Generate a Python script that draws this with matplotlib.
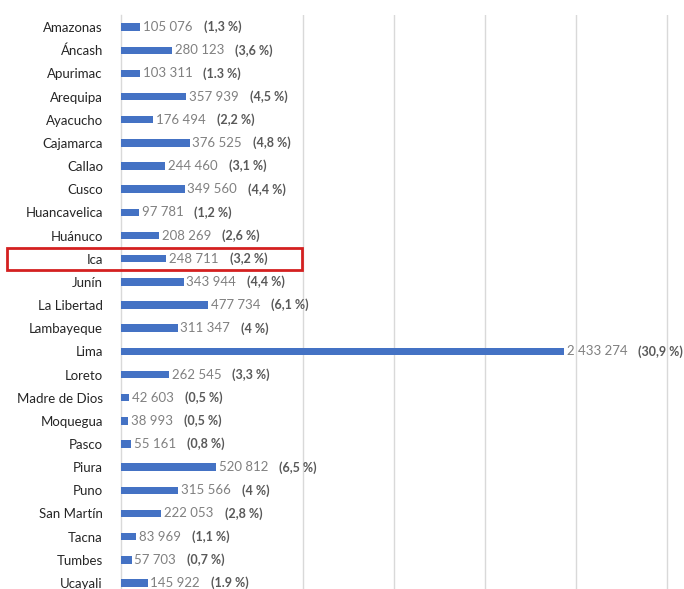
import matplotlib

matplotlib.use("Agg")
import matplotlib.pyplot as plt
from matplotlib.patches import Rectangle
from matplotlib.transforms import blended_transform_factory

# Population by region
regions = [
    "Amazonas", "Áncash", "Apurimac", "Arequipa", "Ayacucho", "Cajamarca",
    "Callao", "Cusco", "Huancavelica", "Huánuco", "Ica", "Junín",
    "La Libertad", "Lambayeque", "Lima", "Loreto", "Madre de Dios",
    "Moquegua", "Pasco", "Piura", "Puno", "San Martín", "Tacna", "Tumbes",
    "Ucayali",
]
population = [
    105076, 280123, 103311, 357939, 176494, 376525,
    244460, 349560, 97781, 208269, 248711, 343944,
    477734, 311347, 2433274, 262545, 42603,
    38993, 55161, 520812, 315566, 222053, 83969, 57703,
    145922,
]
share_labels = [
    "(1,3 %)", "(3,6 %)", "(1.3 %)", "(4,5 %)", "(2,2 %)", "(4,8 %)",
    "(3,1 %)", "(4,4 %)", "(1,2 %)", "(2,6 %)", "(3,2 %)", "(4,4 %)",
    "(6,1 %)", "(4 %)", "(30,9 %)", "(3,3 %)", "(0,5 %)",
    "(0,5 %)", "(0,8 %)", "(6,5 %)", "(4 %)", "(2,8 %)", "(1,1 %)", "(0,7 %)",
    "(1.9 %)",
]
highlight = "Ica"
grid_ticks = [1_000_000, 1_500_000, 2_000_000, 2_500_000, 3_000_000]

plt.rcParams["font.family"] = ["Lato", "DejaVu Sans"]

W, H = 684, 589
fig = plt.figure(figsize=(W / 100, H / 100), dpi=100)
ax = fig.add_axes([121 / W, 0, 1 - 121 / W, 1 - 15 / H])

pos = list(range(len(regions)))
ax.barh(pos, population, height=0.32, color="#4472C4", zorder=3)

ax.set_ylim(24.26, -0.52)
ax.set_xlim(0, 563 / 182 * 1e6)
ax.set_yticks(pos)
ax.set_yticklabels(regions, fontsize=9.5, color="#262626")
ax.tick_params(axis="y", length=0, pad=13)
ax.set_xticks(grid_ticks)
ax.tick_params(axis="x", length=0, labelbottom=False)
ax.grid(axis="x", color="#d9d9d9", linewidth=1, zorder=0)

for side in ["top", "right", "bottom"]:
    ax.spines[side].set_visible(False)
ax.spines["left"].set_color("#d9d9d9")
ax.spines["left"].set_linewidth(1)

for y, v, s in zip(pos, population, share_labels):
    num = f"{v:,}".replace(",", " ")
    t = ax.annotate(num, xy=(v, y), xytext=(2, 0), textcoords="offset points",
                    va="center", ha="left", fontsize=9.5, color="#808080")
    ax.annotate(s, xy=(1, 0.5), xycoords=t, xytext=(8, 0), textcoords="offset points",
                va="center", ha="left", fontsize=9, fontweight="bold", color="#595959")

# red box around the highlighted row
idx = regions.index(highlight)
trans = blended_transform_factory(fig.transFigure, ax.transData)
box = Rectangle((7 / W, idx - 0.48), 295 / W, 0.96, transform=trans,
                fill=False, edgecolor="#d42020", linewidth=2, clip_on=False, zorder=5)
fig.patches.append(box)

fig.savefig("out.png", dpi=100)
